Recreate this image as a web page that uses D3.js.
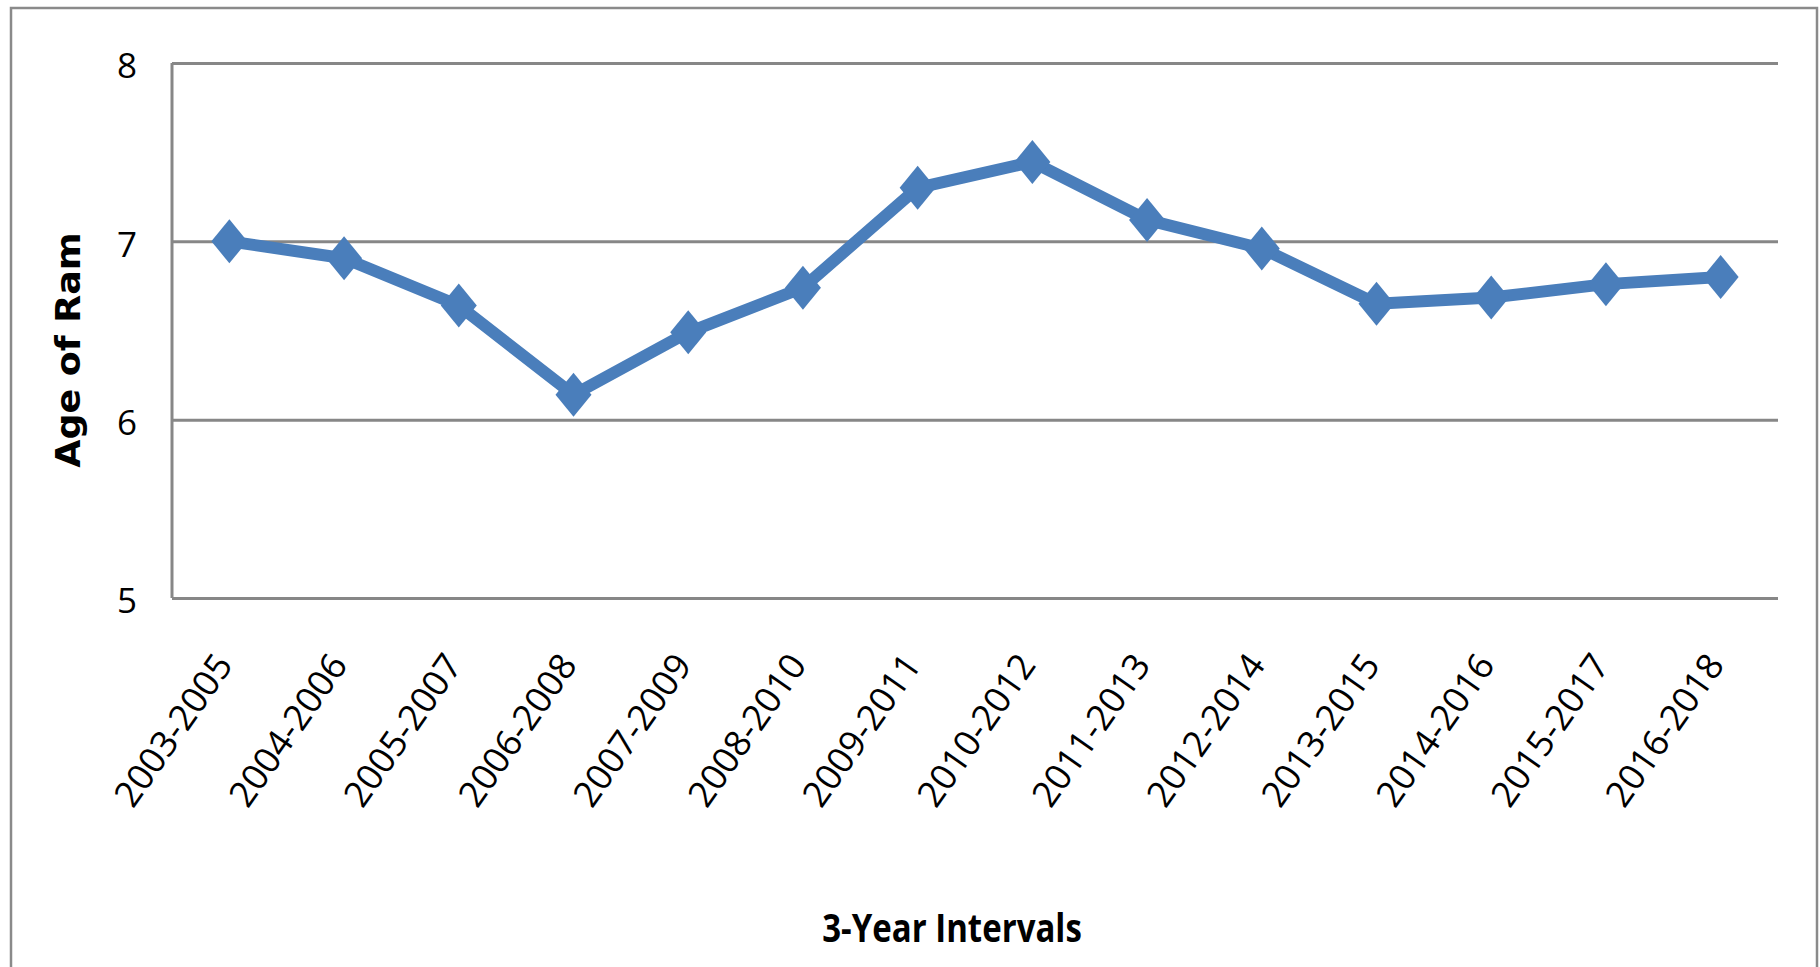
<!DOCTYPE html>
<html>
<head>
<meta charset="utf-8">
<script src="https://cdn.jsdelivr.net/npm/d3@7"></script>
<style>
  body { margin: 0; background: #fff; }
  svg { display: block; }
</style>
</head>
<body>
<svg id="chart" width="1820" height="967"></svg>
<script>
// 3-year interval labels and mean ram age
var intervals = ["2003-2005", "2004-2006", "2005-2007", "2006-2008", "2007-2009", "2008-2010", "2009-2011",
                 "2010-2012", "2011-2013", "2012-2014", "2013-2015", "2014-2016", "2015-2017", "2016-2018"];
var ramAge = [7.00, 6.905, 6.64, 6.14, 6.49, 6.74, 7.30, 7.445, 7.12, 6.96, 6.65, 6.685, 6.76, 6.80];
var yTicks = [5, 6, 7, 8];

var svg = d3.select("#chart");
// note: "top" is reserved on window, so use plot* names
var plotLeft = 172, plotRight = 1778, plotTop = 63, plotBottom = 598;
var gridColor = "#878787", lineColor = "#4a7ebb";

// outer chart border (bottom edge falls outside the picture)
svg.append("rect")
    .attr("x", 11).attr("y", 8)
    .attr("width", 1806).attr("height", 1000)
    .style("fill", "none")
    .style("stroke", "#8a8a8a")
    .style("stroke-width", 2.5);

var x = d3.scalePoint().domain(intervals).range([plotLeft, plotRight]).padding(0.5);
var y = d3.scaleLinear().domain([5, 8]).range([plotBottom, plotTop]);

// gridlines + y labels
var yAxis = d3.axisLeft(y).tickValues(yTicks).tickSize(-(plotRight - plotLeft)).tickPadding(35).tickFormat(d3.format("d"));
var gy = svg.append("g").attr("transform", "translate(" + plotLeft + ",0)").call(yAxis);
gy.select(".domain").remove();
gy.selectAll(".tick line").style("stroke", gridColor).style("stroke-width", 3);
gy.selectAll(".tick text")
    .attr("dy", "0.42em")
    .style("font-family", "'Open Sans', sans-serif")
    .style("font-size", "35px")
    .style("fill", "#000");

// vertical axis line
svg.append("line")
    .attr("x1", plotLeft).attr("x2", plotLeft)
    .attr("y1", y(8)).attr("y2", y(5))
    .style("stroke", gridColor)
    .style("stroke-width", 3);

// slanted x labels
var xAxis = d3.axisBottom(x).tickSize(0).tickPadding(0);
var gx = svg.append("g").attr("transform", "translate(0," + plotBottom + ")").call(xAxis);
gx.select(".domain").remove();
gx.selectAll(".tick text")
    .attr("text-anchor", "end")
    .attr("y", 0).attr("dy", "0.35em")
    .attr("transform", "translate(-6,60) rotate(-55)")
    .style("font-family", "'Open Sans', sans-serif")
    .style("font-size", "36px")
    .style("fill", "#000");

// series line
var line = d3.line()
    .x(function(d, i) { return x(intervals[i]); })
    .y(function(d) { return y(d); });

svg.append("path")
    .datum(ramAge)
    .attr("d", line)
    .style("fill", "none")
    .style("stroke", lineColor)
    .style("stroke-width", 12)
    .style("stroke-linejoin", "round");

// diamond markers
svg.selectAll("path.marker").data(ramAge).enter().append("path")
    .attr("class", "marker")
    .attr("d", "M0,-22L18,0L0,22L-18,0Z")
    .attr("transform", function(d, i) { return "translate(" + x(intervals[i]) + "," + y(d) + ")"; })
    .style("fill", lineColor);

// axis titles
svg.append("text")
    .attr("transform", "translate(952,942) scale(1,1.2)")
    .attr("text-anchor", "middle")
    .style("font-family", "'Open Sans', sans-serif")
    .style("font-weight", "bold")
    .style("font-size", "33px")
    .text("3-Year Intervals");

svg.append("text")
    .attr("transform", "translate(80,350) scale(1,1.07) rotate(-90)")
    .attr("text-anchor", "middle")
    .style("font-family", "'DejaVu Sans', sans-serif")
    .style("font-weight", "bold")
    .style("font-size", "34px")
    .text("Age of Ram");
</script>
</body>
</html>
